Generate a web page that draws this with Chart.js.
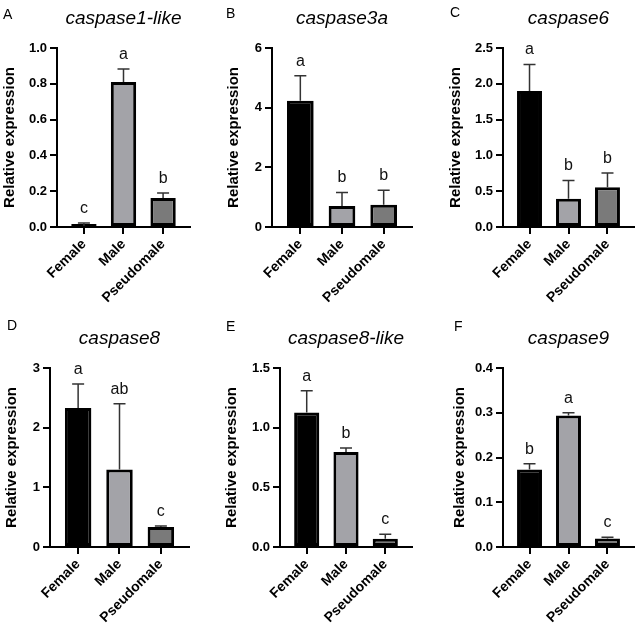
<!DOCTYPE html>
<html>
<head>
<meta charset="utf-8">
<script src="https://cdn.jsdelivr.net/npm/chart.js@4.4.0/dist/chart.umd.min.js"></script>
<style>
  body { margin: 0; background: #fff; }
  #wrap { position: relative; width: 638px; height: 625px; background: #fff; }
  #wrap canvas { position: absolute; }
</style>
</head>
<body>
<div id="wrap"></div>
<script>
// groups on the x axis
const groups = ['Female', 'Male', 'Pseudomale'];
const genes = ['caspase1-like', 'caspase3a', 'caspase6', 'caspase8', 'caspase8-like', 'caspase9'];
const panelTags = ['A', 'B', 'C', 'D', 'E', 'F'];

// mean relative expression and upper SD
const casp1likeMean = [0.006, 0.81, 0.162];
const casp1likeSd   = [0.016, 0.072, 0.028];
const casp3aMean    = [4.23, 0.70, 0.75];
const casp3aSd      = [0.84, 0.46, 0.48];
const casp6Mean     = [1.90, 0.395, 0.555];
const casp6Sd       = [0.37, 0.255, 0.20];
const casp8Mean     = [2.33, 1.30, 0.335];
const casp8Sd       = [0.40, 1.10, 0.015];
const casp8likeMean = [1.127, 0.796, 0.07];
const casp8likeSd   = [0.183, 0.034, 0.036];
const casp9Mean     = [0.173, 0.294, 0.019];
const casp9Sd       = [0.013, 0.006, 0.003];

// significance letters
const casp1likeSig = ['c', 'a', 'b'];
const casp3aSig    = ['a', 'b', 'b'];
const casp6Sig     = ['a', 'b', 'b'];
const casp8Sig     = ['a', 'ab', 'c'];
const casp8likeSig = ['a', 'b', 'c'];
const casp9Sig     = ['b', 'a', 'c'];

// y axis ranges / ticks
const yMax      = [1.0, 6, 2.5, 3, 1.5, 0.4];
const yStep     = [0.2, 2, 0.5, 1, 0.5, 0.1];
const yDecimals = [1, 0, 1, 0, 1, 1];

const means = [casp1likeMean, casp3aMean, casp6Mean, casp8Mean, casp8likeMean, casp9Mean];
const sds = [casp1likeSd, casp3aSd, casp6Sd, casp8Sd, casp8likeSd, casp9Sd];
const sigs = [casp1likeSig, casp3aSig, casp6Sig, casp8Sig, casp8likeSig, casp9Sig];

const barColors = ['#000000', '#a3a3a8', '#7a7a7a'];
const FONT = "'Liberation Sans', Arial, sans-serif";

// canvas placement and plot box for each panel (page pixels)
const layout = [
  { left: 0,   top: 0,   w: 213, h: 310, axisX: 57,  plotTop: 48,  plotRight: 190, axisY: 227, titlePad: 1,  tagX: 3,  tagY: 19 },
  { left: 213, top: 0,   w: 212, h: 310, axisX: 272, plotTop: 48,  plotRight: 412, axisY: 227, titlePad: 12, tagX: 13, tagY: 18 },
  { left: 425, top: 0,   w: 213, h: 310, axisX: 503, plotTop: 48,  plotRight: 634, axisY: 227, titlePad: 22, tagX: 25, tagY: 17 },
  { left: 0,   top: 310, w: 213, h: 315, axisX: 50,  plotTop: 368, plotRight: 189, axisY: 547, titlePad: 3,  tagX: 7,  tagY: 20 },
  { left: 213, top: 310, w: 212, h: 315, axisX: 280, plotTop: 368, plotRight: 412, axisY: 547, titlePad: 10, tagX: 13, tagY: 21 },
  { left: 425, top: 310, w: 213, h: 315, axisX: 503, plotTop: 368, plotRight: 634, axisY: 547, titlePad: 26, tagX: 29, tagY: 21 }
];

// error bars, letters, gene title and panel tag
const overlay = {
  id: 'overlay',
  afterDatasetsDraw(chart, args, opts) {
    const { ctx, chartArea } = chart;
    const x = chart.scales.x, y = chart.scales.y;
    const k = opts.k;
    ctx.save();
    ctx.strokeStyle = '#333';
    ctx.lineWidth = 1.5;
    ctx.fillStyle = '#111';
    ctx.font = '16px ' + FONT;
    ctx.textAlign = 'center';
    ctx.textBaseline = 'alphabetic';
    means[k].forEach((m, i) => {
      const px = x.getPixelForValue(i + 1);
      const y0 = y.getPixelForValue(m);
      const y1 = y.getPixelForValue(m + sds[k][i]);
      ctx.beginPath();
      ctx.moveTo(px, y0);
      ctx.lineTo(px, y1);
      ctx.moveTo(px - 6, y1);
      ctx.lineTo(px + 6, y1);
      ctx.stroke();
      ctx.fillText(sigs[k][i], px, y1 - 10);
    });
    ctx.fillStyle = '#000';
    ctx.font = 'italic 19px ' + FONT;
    ctx.fillText(genes[k], (chartArea.left + chartArea.right) / 2, chartArea.top - 24);
    ctx.textAlign = 'left';
    ctx.font = '14px ' + FONT;
    ctx.fillText(panelTags[k], layout[k].tagX, layout[k].tagY);
    ctx.restore();
  }
};

const wrap = document.getElementById('wrap');

layout.forEach((L, k) => {
  const cv = document.createElement('canvas');
  cv.width = L.w;
  cv.height = L.h;
  cv.style.left = L.left + 'px';
  cv.style.top = L.top + 'px';
  cv.style.width = L.w + 'px';
  cv.style.height = L.h + 'px';
  wrap.appendChild(cv);

  new Chart(cv.getContext('2d'), {
    type: 'bar',
    data: {
      datasets: [{
        data: means[k].map((v, i) => ({ x: i + 1, y: v })),
        backgroundColor: barColors,
        borderColor: '#000',
        borderWidth: 3,
        borderSkipped: false,
        minBarLength: 3,
        barPercentage: 0.64,
        categoryPercentage: 1
      }]
    },
    options: {
      responsive: false,
      animation: false,
      layout: {
        autoPadding: false,
        padding: { top: L.plotTop - L.top, right: L.left + L.w - L.plotRight, left: 0, bottom: 0 }
      },
      plugins: {
        legend: { display: false },
        tooltip: { enabled: false },
        overlay: { k: k }
      },
      scales: {
        x: {
          type: 'linear',
          offset: false,
          min: 0.32,
          max: 3.68,
          afterBuildTicks: (s) => { s.ticks = [1, 2, 3].map(v => ({ value: v })); },
          afterFit: (s) => { s.height = L.top + L.h - L.axisY; },
          grid: { display: true, offset: false, drawOnChartArea: false, drawTicks: true, tickLength: 7, color: '#000', lineWidth: 2 },
          border: { display: true, color: '#000', width: 2 },
          ticks: {
            autoSkip: false,
            minRotation: 45,
            maxRotation: 45,
            padding: 2,
            color: '#000',
            font: { family: FONT, size: 14, weight: 'bold' },
            callback: (v) => groups[v - 1]
          }
        },
        y: {
          min: 0,
          max: yMax[k],
          afterFit: (s) => { s.width = L.axisX - L.left; },
          grid: { display: true, drawOnChartArea: false, drawTicks: true, tickLength: 7, color: '#000', lineWidth: 2 },
          border: { display: true, color: '#000', width: 2 },
          ticks: {
            stepSize: yStep[k],
            padding: 3,
            color: '#000',
            font: { family: FONT, size: 13, weight: 'bold' },
            callback: (v) => Number(v).toFixed(yDecimals[k])
          },
          title: {
            display: true,
            text: 'Relative expression',
            color: '#000',
            padding: { top: L.titlePad, bottom: 0 },
            font: { family: FONT, size: 15, weight: 'bold' }
          }
        }
      }
    },
    plugins: [overlay]
  });
});
</script>
</body>
</html>
